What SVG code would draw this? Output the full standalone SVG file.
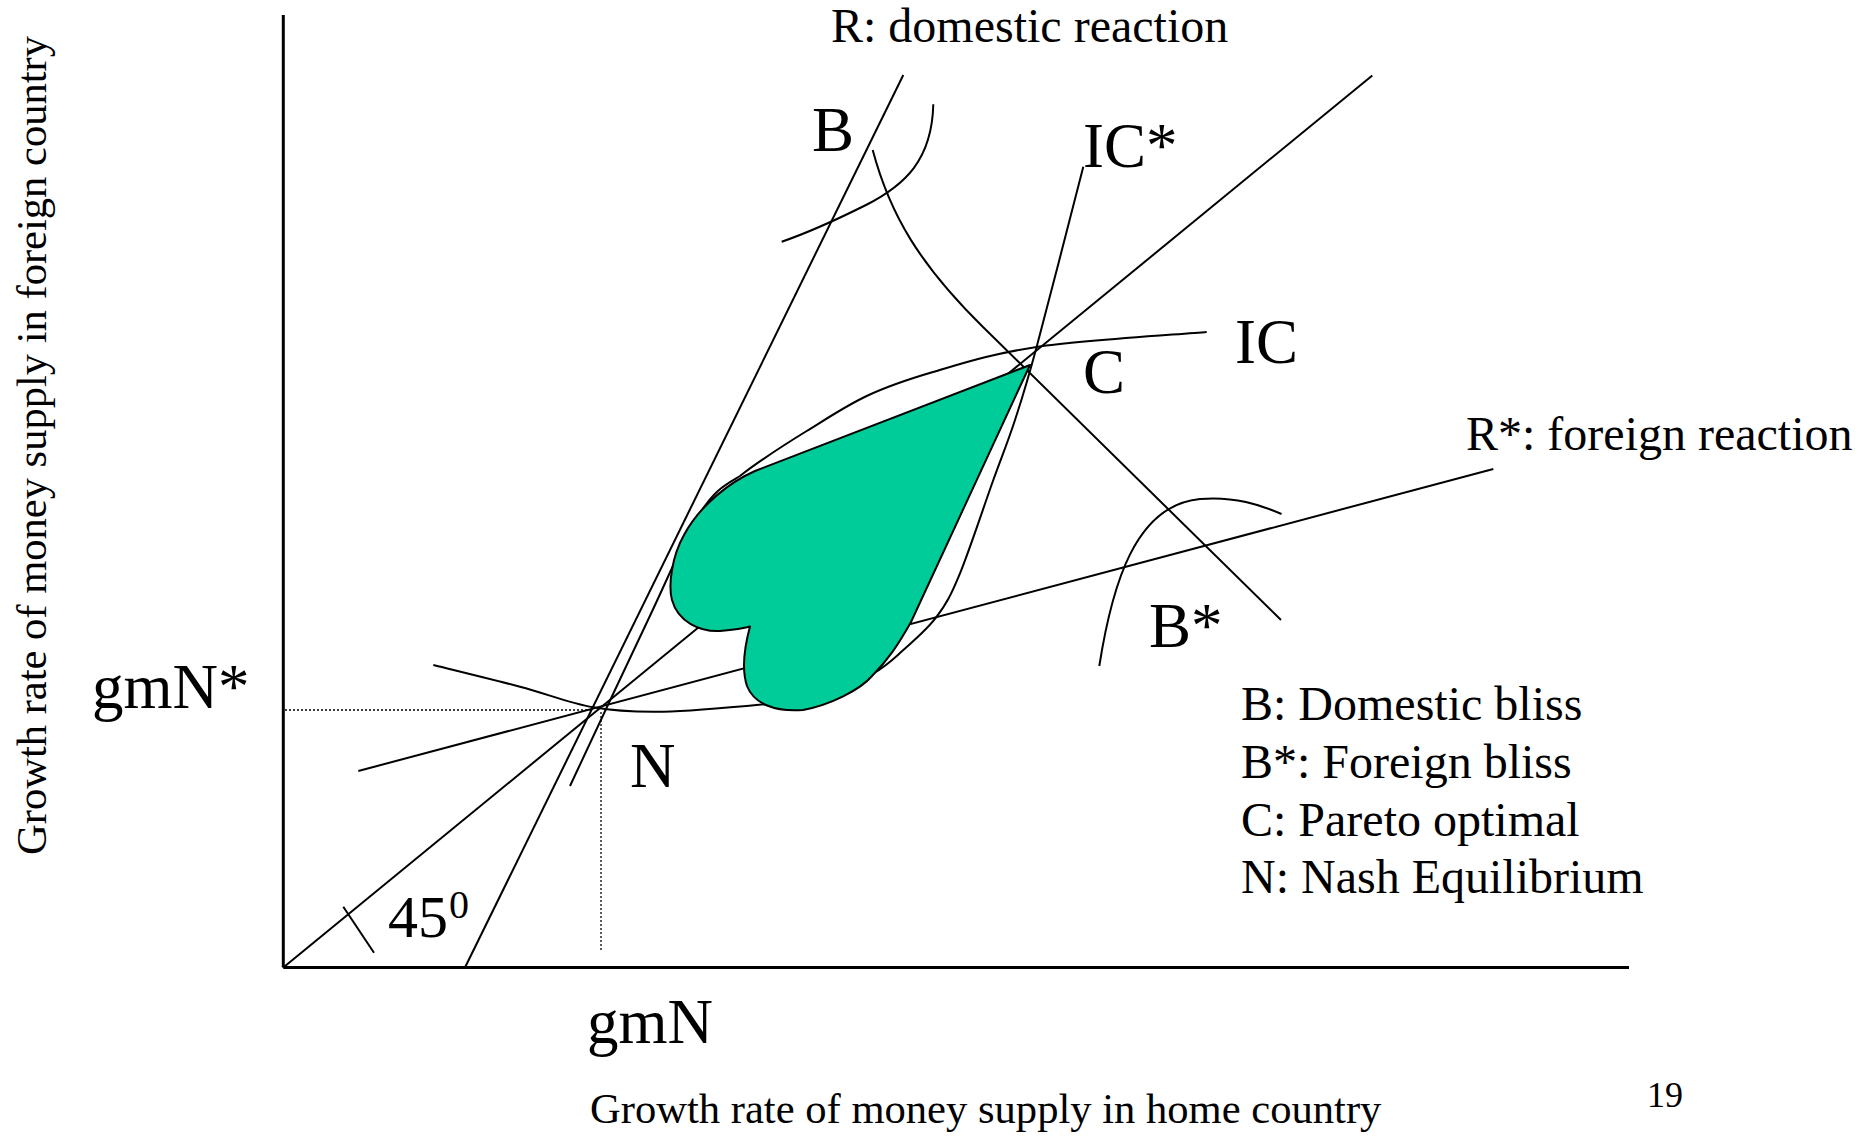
<svg xmlns="http://www.w3.org/2000/svg" width="1876" height="1136" viewBox="0 0 1876 1136">
<style>
.ln{fill:none;stroke:#000;stroke-width:2}
.ax{fill:none;stroke:#000;stroke-width:3}
.dot{fill:none;stroke:#000;stroke-width:1.3;stroke-dasharray:2 2}
.t{font-family:"Liberation Serif","Times New Roman",serif;fill:#000}
.big{font-size:63px}
.mid{font-size:48px}
.sm{font-size:42.6px}
</style>
<rect width="1876" height="1136" fill="#fff"/>
<g id="axes">
<line class="ax" x1="283.3" y1="15" x2="283.3" y2="967.5"/>
<line class="ax" x1="283.3" y1="967.5" x2="1629" y2="967.5"/>
<line class="dot" x1="285" y1="710" x2="592" y2="710"/>
<line class="dot" x1="601" y1="712" x2="601" y2="950"/>
</g>
<g id="connectors">
<path id="line45" class="ln" d="M283.3,967.5 L1372.3,75.4"/>
<path id="tick45" class="ln" d="M343.3,906.7 L374,952.7"/>
<path id="R" class="ln" d="M465,967.5 L903.3,75"/>
<path id="Rstar" class="ln" d="M358.3,771 L1493.3,469"/>
<path id="IC" class="ln" d="M570,786 C583,758.3 626.3,665.5 648,620 C669.7,574.5 684.7,536.7 700,513 C715.3,489.3 725,485 740,476 C757.8,462 785.6,444 806.7,431 C827.8,418 845.6,406 866.7,396 C887.8,386 904.7,380.3 933,372 C961.3,363.7 991.1,353.8 1036.7,347 C1082.3,340.2 1178.4,334.5 1206.7,332"/>
<path id="ICstar" class="ln" d="M1083.3,166.7 C1075.5,196.7 1048.1,304.5 1036.7,346.7 C1025.3,388.9 1022.2,397.8 1015,420 C1007.8,442.2 1002.5,454.4 993.3,480 C984.1,505.6 969.4,550.5 960,573.3 C950.6,596.1 946.2,603.9 936.7,616.7 C927.25,629.5 913.9,640.6 903.3,650 C892.7,659.4 887.2,665.5 873.3,673.3 C859.4,681.1 837.8,691.9 820,697 C802.2,702.1 792.8,701.6 766.7,704 C740.6,706.5 692.2,711.2 663.3,711.7 C634.4,712.2 617.2,711.5 593.3,707.3 C569.4,703.1 546.7,693.75 520,686.7 C493.3,679.65 447.8,668.6 433.3,665"/>
<path id="contract" class="ln" d="M872.7,150 C890,215 920,265 983,327 L1281,620"/>
<path id="Bcurve" class="ln" d="M933.3,104.3 C932,160 905,185 866,205 C840,218 810,232 781.7,241.7"/>
<path id="Bstarcurve" class="ln" d="M1099.3,666 C1112,585 1135,505 1200,499 C1235,496 1260,505 1281.5,514"/>
</g>
<g id="region">
<path d="M1030,365 L755,471 C730,482 700,505 684,535 C672,556 668,585 672,600 C678,622 700,632 720,631 C732,630 745,628 750,626.5 C745,645 741,668 747,686 C754,704 775,712 803,710 C830,705 860,690 872,676 C888,660 898,645 911,622 Z" fill="#00cc99" stroke="#000" stroke-width="2" stroke-linejoin="round"/>
</g>
<g id="labels">
<text class="t mid" x="831" y="41.7">R: domestic reaction</text>
<text class="t big" x="812" y="151">B</text>
<text class="t big" x="1083" y="167">IC*</text>
<text class="t big" x="1235" y="363">IC</text>
<text class="t big" x="1083" y="393">C</text>
<text class="t mid" x="1466" y="450">R*: foreign reaction</text>
<text class="t big" x="1149" y="647">B*</text>
<text class="t big" x="630" y="787">N</text>
<text class="t big" x="92" y="708">gmN*</text>
<text class="t big" x="587" y="1043">gmN</text>
<text class="t" x="388" y="937" font-size="60">45</text>
<text class="t" x="449" y="918" font-size="40">0</text>
</g>
<g id="legend">
<text class="t mid" x="1241" y="720">B: Domestic bliss</text>
<text class="t mid" x="1241" y="778">B*: Foreign bliss</text>
<text class="t mid" x="1241" y="836">C: Pareto optimal</text>
<text class="t mid" x="1241" y="893">N: Nash Equilibrium</text>
</g>
<g id="axis-titles">
<text class="t sm" x="590" y="1123">Growth rate of money supply in home country</text>
<text class="t sm" transform="translate(46,855) rotate(-90)" x="0" y="0" textLength="819" lengthAdjust="spacingAndGlyphs">Growth rate of money supply in foreign country</text>
<text class="t" x="1647" y="1107" font-size="36">19</text>
</g>
</svg>
